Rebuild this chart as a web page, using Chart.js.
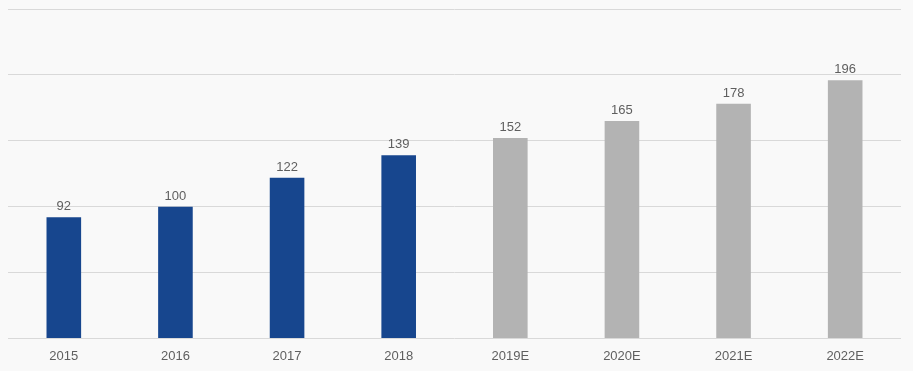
<!DOCTYPE html>
<html>
<head>
<meta charset="utf-8">
<script src="https://cdn.jsdelivr.net/npm/chart.js@4"></script>
<style>
  html, body { margin: 0; padding: 0; background: #f9f9f9; }
</style>
</head>
<body>
<canvas id="chart" width="913" height="371"></canvas>
<script>
"use strict"
// data
const years = ['2015', '2016', '2017', '2018', '2019E', '2020E', '2021E', '2022E'];
const revenue = [92, 100, 122, 139, 152, 165, 178, 196];
const barColors = ['#17468e', '#17468e', '#17468e', '#17468e', '#b3b3b3', '#b3b3b3', '#b3b3b3', '#b3b3b3'];

const fontFamily = '"Liberation Sans Narrow", "Arial Narrow", "Liberation Sans", sans-serif';

// writes the value over each bar
const valueLabels = {
  id: 'valueLabels',
  afterDatasetsDraw(chart) {
    const ctx = chart.ctx;
    ctx.save();
    ctx.font = '13px ' + fontFamily;
    ctx.fillStyle = '#5f5f5f';
    ctx.textAlign = 'center';
    ctx.textBaseline = 'bottom';
    chart.getDatasetMeta(0).data.forEach((bar, i) => {
      ctx.fillText(revenue[i], bar.x, bar.y - 4);
    });
    ctx.restore();
  }
};

new Chart(document.getElementById('chart'), {
  type: 'bar',
  data: {
    labels: years,
    datasets: [{
      data: revenue,
      backgroundColor: barColors,
      categoryPercentage: 1,
      barPercentage: 0.31
    }]
  },
  options: {
    responsive: false,
    animation: false,
    layout: { padding: { left: 8, right: 12, top: 9, bottom: 5 } },
    plugins: { legend: { display: false }, tooltip: { enabled: false } },
    scales: {
      x: {
        grid: { display: false },
        border: { display: false },
        ticks: { color: '#5f5f5f', font: { family: fontFamily, size: 13 }, padding: 2 }
      },
      y: {
        min: 0,
        max: 250,
        ticks: { display: false, stepSize: 50 },
        grid: { color: '#d9d9d9', lineWidth: 1, drawTicks: false },
        border: { display: false }
      }
    }
  },
  plugins: [valueLabels]
});
</script>
</body>
</html>
